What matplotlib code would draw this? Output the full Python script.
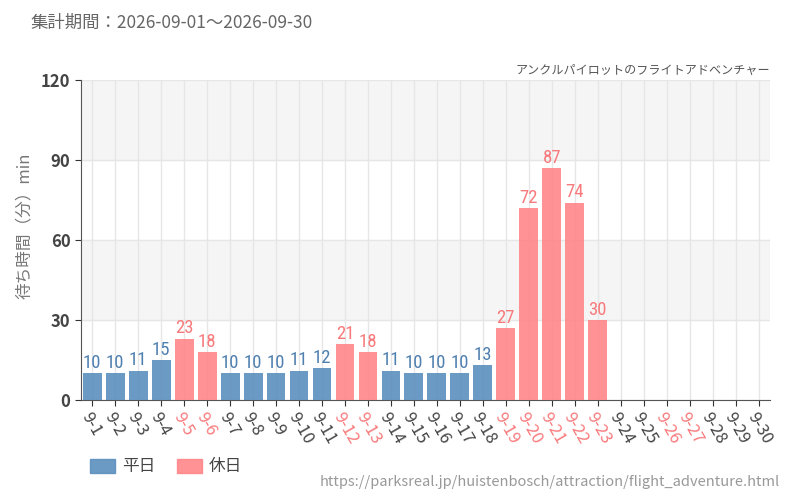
import numpy as np
import matplotlib.pyplot as plt
from matplotlib.patches import Patch
from matplotlib import font_manager

plt.rcParams['font.family'] = ['Noto Sans CJK JP', 'DejaVu Sans']

# データ
days = ['9-%d' % d for d in range(1, 31)]
waits = [10, 10, 11, 15, 23, 18, 10, 10, 10, 11, 12, 21, 18, 11, 10, 10, 10, 13,
         27, 72, 87, 74, 30, None, None, None, None, None, None, None]
holidays = [5, 6, 12, 13, 19, 20, 21, 22, 23, 26, 27]

BLUE = '#5b8fbe'
PINK = '#ff8688'
BLUE_TXT = '#4f80b0'
PINK_TXT = '#f87a7c'

# 数字用の細いフォント（あれば）
names = {f.name for f in font_manager.fontManager.ttflist}
narrow = [n for n in ['Roboto Condensed', 'Liberation Sans Narrow', 'DejaVu Sans'] if n in names]

fig = plt.figure(figsize=(8, 5), dpi=100)
ax = fig.add_axes([0.101, 0.2, 0.8615, 0.64])

# 背景の帯
for lo, hi in [(30, 60), (90, 120)]:
    ax.axhspan(lo, hi, color='#f5f5f5', zorder=0)

x = np.arange(len(days))
for i, v in enumerate(waits):
    if v is None:
        continue
    hol = (i + 1) in holidays
    ax.bar(i, v, width=0.82, color=PINK if hol else BLUE, alpha=0.9, zorder=3)
    ax.text(i, v + 0.5, str(v), ha='center', va='bottom', fontsize=13.5,
            color=PINK_TXT if hol else BLUE_TXT, zorder=4,
            family=narrow, fontstretch='condensed')

ax.set_xlim(-0.5, 29.5)
ax.set_ylim(0, 120)
ax.set_yticks([0, 30, 60, 90, 120])
ax.set_xticks(x)
ax.set_xticklabels(days, rotation=-60, ha='left', va='top', rotation_mode='anchor')
for i, lab in enumerate(ax.get_xticklabels()):
    lab.set_color(PINK_TXT if (i + 1) in holidays else '#444444')
ax.tick_params(axis='x', labelsize=12, length=4, color='#333333', pad=3)
ax.tick_params(axis='y', labelsize=12, length=4, color='#333333', labelcolor='#444444')
for lab in ax.get_yticklabels():
    lab.set_fontweight('bold')

ax.grid(True, color='#e6e6e6', linewidth=1, zorder=1)
ax.set_axisbelow(True)
for s in ['top', 'right']:
    ax.spines[s].set_visible(False)
for s in ['left', 'bottom']:
    ax.spines[s].set_color('#555555')

ax.set_ylabel('待ち時間（分）min', fontsize=12, color='#777777')
ax.yaxis.set_label_coords(-0.07, 0.545)

fig.text(0.0375, 0.955, '集計期間：2026-09-01～2026-09-30', fontsize=12.5, color='#666666', va='center')
fig.text(0.9625, 0.86, 'アンクルパイロットのフライトアドベンチャー', fontsize=8.7, color='#555555',
         ha='right', va='center')
fig.text(0.975, 0.036, 'https://parksreal.jp/huistenbosch/attraction/flight_adventure.html',
         fontsize=10.5, color='#999999', ha='right', va='center')

handles = [Patch(color=BLUE, alpha=0.9, label='平日'), Patch(color=PINK, alpha=0.9, label='休日')]
fig.legend(handles=handles, loc='center left', bbox_to_anchor=(0.094, 0.066), ncol=2,
           frameon=False, fontsize=12, handlelength=1.5, handleheight=0.9,
           columnspacing=1.3, handletextpad=0.4, labelcolor='#444444')

fig.savefig('out.png')
